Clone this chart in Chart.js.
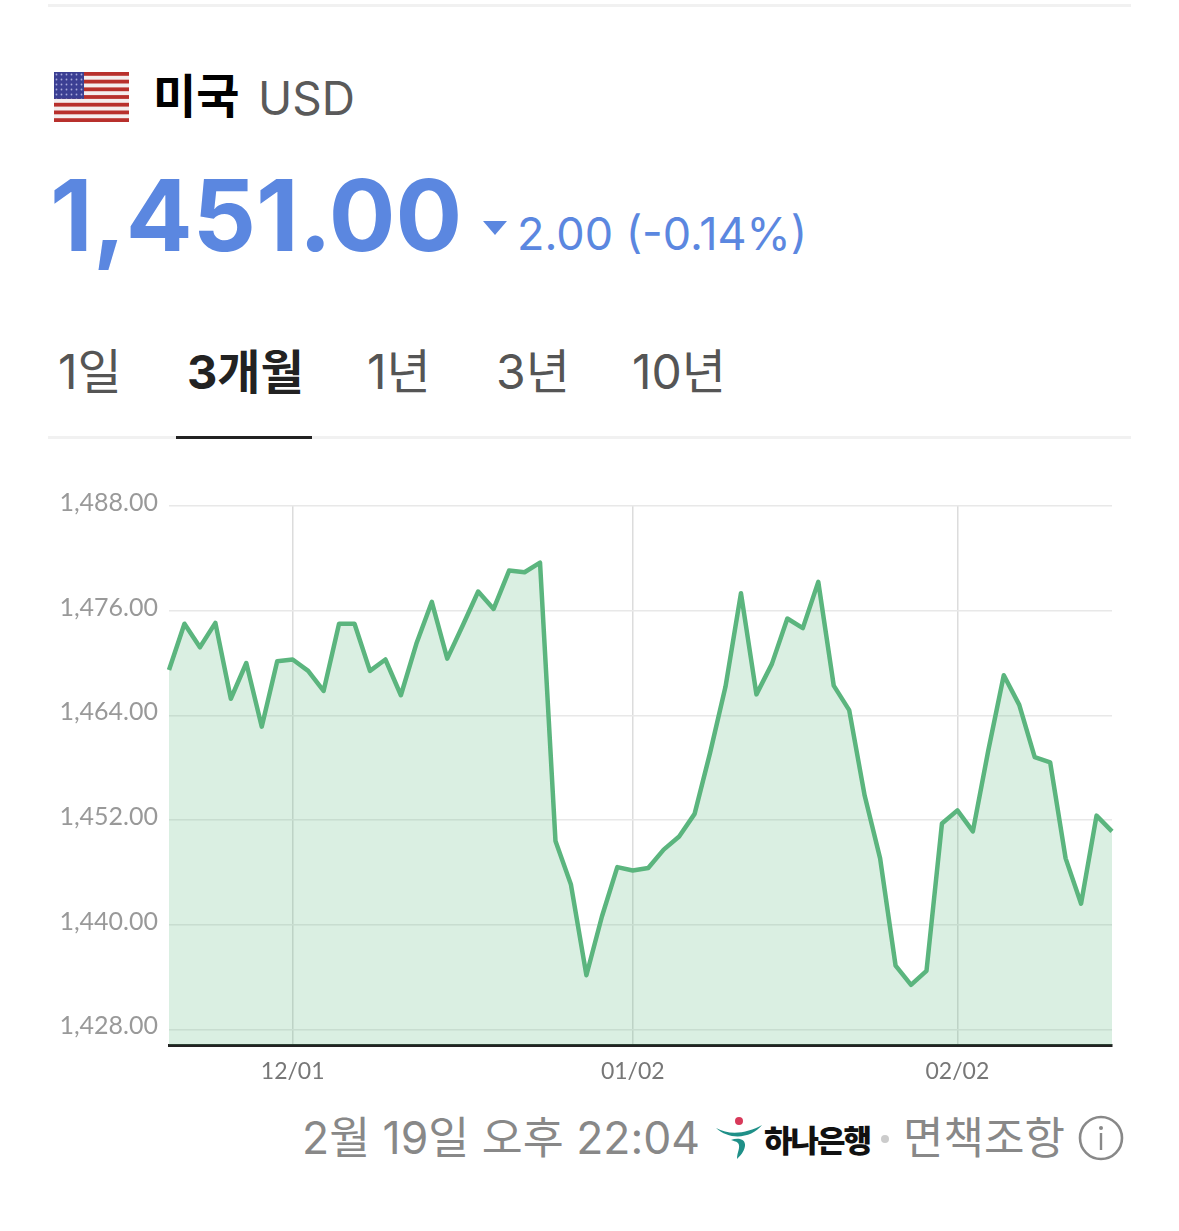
<!DOCTYPE html>
<html lang="ko">
<head>
<meta charset="utf-8">
<title>미국 USD</title>
<style>
  html, body { margin: 0; padding: 0; background: #fff; }
  body { position: relative; width: 1179px; height: 1231px; overflow: hidden;
         font-family: Inter, "Noto Sans CJK KR", sans-serif; }
  .t { position: absolute; white-space: nowrap; line-height: 1; }
  .kr { font-family: "Noto Sans CJK KR", sans-serif; }
  .rule { position: absolute; left: 48px; width: 1083px; height: 3px; background: #f1f1f1; }
  #wrap { position: absolute; left: 0; top: 480px; width: 1179px; height: 620px; }
  svg { position: absolute; }
</style>
</head>
<body>
  <div class="rule" style="top:4px"></div>

  <!-- 국기 -->
  <svg style="left:54px;top:72px" width="75" height="50" viewBox="0 0 75 50">
    <rect width="75" height="50" fill="#f4eeee"/>
    <g fill="#b8302c">
      <rect y="0" width="75" height="3.8"/><rect y="7.7" width="75" height="3.8"/>
      <rect y="15.4" width="75" height="3.8"/><rect y="23.1" width="75" height="3.8"/>
      <rect y="30.8" width="75" height="3.8"/><rect y="38.5" width="75" height="3.8"/>
      <rect y="46.2" width="75" height="3.8"/>
    </g>
    <defs>
      <pattern id="stars" width="5" height="5" patternUnits="userSpaceOnUse">
        <circle cx="2.5" cy="2.5" r="0.9" fill="#a9aadb"/>
      </pattern>
    </defs>
    <rect width="30" height="26.9" fill="#3b3f93"/>
    <rect width="30" height="26.9" fill="url(#stars)"/>
  </svg>

  <span class="t kr" style="left:153px;top:69px;font-size:47px;font-weight:700;color:#000">미국</span>
  <span class="t" style="left:258px;top:75px;font-size:46px;color:#5a5a5a">USD</span>
  <span class="t" style="left:50px;top:166px;font-size:99px;font-weight:700;color:#5b87e0">1,451.00</span>
  <svg style="left:483px;top:221px" width="24" height="14"><path d="M0 0H24L12 14Z" fill="#5b87e0"/></svg>
  <span class="t" style="left:517px;top:211px;font-size:45px;color:#5b87e0">2.00 (-0.14%)</span>

  <span class="t" style="left:58px;top:348px;font-size:48px;color:#555">1일</span>
  <span class="t" style="left:187px;top:348px;font-size:47px;font-weight:700;color:#222">3개월</span>
  <span class="t" style="left:367px;top:348px;font-size:48px;color:#555">1년</span>
  <span class="t" style="left:496px;top:348px;font-size:48px;color:#555">3년</span>
  <span class="t" style="left:632px;top:348px;font-size:48px;color:#555">10년</span>
  <div class="rule" style="top:436px"></div>
  <div style="position:absolute;left:176px;top:436px;width:136px;height:3px;background:#222"></div>

  <div id="wrap"><canvas id="chart-usd"></canvas></div>

  <span class="t" style="left:302px;top:1116px;font-size:44.5px;color:#888">2월 19일 오후 22:04</span>
  <!-- 하나은행 로고 -->
  <svg style="left:716px;top:1116px" width="48" height="44" viewBox="0 0 48 44">
    <circle cx="23" cy="5" r="4" fill="#d8395a"/>
    <path d="M0 12C14 20 32 17 46 9C36 22 14 25 0 12Z" fill="#1f9088"/>
    <path d="M15 24C22 21 30 23 29 30C28 36 24 40 21 43C21 36 25 31 22 27C20 25 17 25 15 24Z" fill="#1f9088"/>
  </svg>
  <span class="t kr" style="left:764px;top:1123px;font-size:31px;font-weight:900;letter-spacing:-2px;color:#111">하나은행</span>
  <svg style="left:880px;top:1134px" width="10" height="10"><circle cx="5" cy="5" r="4" fill="#ccc"/></svg>
  <span class="t kr" style="left:903px;top:1113px;font-size:44px;color:#888">면책조항</span>
  <svg style="left:1078px;top:1115px" width="46" height="46" viewBox="0 0 46 46">
    <circle cx="23" cy="23" r="21" fill="none" stroke="#888" stroke-width="2.6"/>
    <circle cx="23" cy="13" r="2" fill="#888"/>
    <rect x="21.8" y="18" width="2.4" height="17" fill="#888"/>
  </svg>

<script src="https://cdn.jsdelivr.net/npm/chart.js@4"></script>
<script>
/* ── DATA ─────────────────────────────────────────────── */
const categories = [
  '','','','','','','','','12/01','','','','','','','','','','','','','','','','','','','','','',
  '01/02','','','','','','','','','','','','','','','','','','','','','02/02','','','','','','','','','',''
];
const rates = [
  1469.2,1474.5,1471.8,1474.6,1465.9,1470.0,1462.7,1470.2,1470.4,1469.1,
  1466.8,1474.5,1474.5,1469.1,1470.4,1466.3,1472.2,1477.0,1470.5,1474.3,
  1478.2,1476.2,1480.6,1480.4,1481.5,1449.6,1444.6,1434.2,1440.9,1446.6,
  1446.2,1446.5,1448.6,1450.1,1452.7,1459.7,1467.3,1478.0,1466.4,1469.9,
  1475.1,1474.0,1479.3,1467.4,1464.6,1454.8,1447.6,1435.3,1433.1,1434.7,
  1451.6,1453.1,1450.7,1460.0,1468.6,1465.2,1459.2,1458.6,1447.6,1442.4,
  1452.5,1450.7
];
const yTicks = [1428, 1440, 1452, 1464, 1476, 1488];
const xTickIndex = [8, 30, 51];

/* ── CHART ────────────────────────────────────────────── */
new Chart(document.getElementById('chart-usd'), {
  type: 'line',
  data: {
    labels: categories,
    datasets: [{
      data: rates,
      borderColor: '#5bb57e',
      backgroundColor: 'rgba(87,180,125,.22)',
      borderWidth: 4.5,
      fill: 'start',
      tension: 0,
      pointRadius: 0,
      borderJoinStyle: 'round'
    }]
  },
  options: {
    responsive: true,
    maintainAspectRatio: false,
    animation: false,
    layout: { padding: { top: 25, right: 67, bottom: 0, left: 0 } },
    plugins: { legend: { display: false }, tooltip: { enabled: false } },
    scales: {
      x: {
        offset: false,
        afterBuildTicks: s => { s.ticks = xTickIndex.map(i => ({ value: i })); },
        afterFit: s => { s.height = 55; },
        grid: { color: '#dcdcdc', lineWidth: 1.5, drawTicks: false },
        border: { color: '#222', width: 3 },
        ticks: {
          autoSkip: false, maxRotation: 0, padding: 13, color: '#777',
          font: { family: 'Lato', size: 23 },
          callback(v) { return this.getLabelForValue(v); }
        }
      },
      y: {
        min: 1426.2,
        max: 1488,
        afterBuildTicks: s => { s.ticks = yTicks.map(v => ({ value: v })); },
        afterFit: s => { s.width = 169; },
        grid: { color: '#e8e8e8', lineWidth: 1.5, drawTicks: false },
        border: { display: false },
        ticks: {
          padding: 11, labelOffset: -3, color: '#999',
          font: { family: 'Lato', size: 25 },
          callback: v => v.toLocaleString('en-US', { minimumFractionDigits: 2 })
        }
      }
    }
  }
});
</script>
</body>
</html>
